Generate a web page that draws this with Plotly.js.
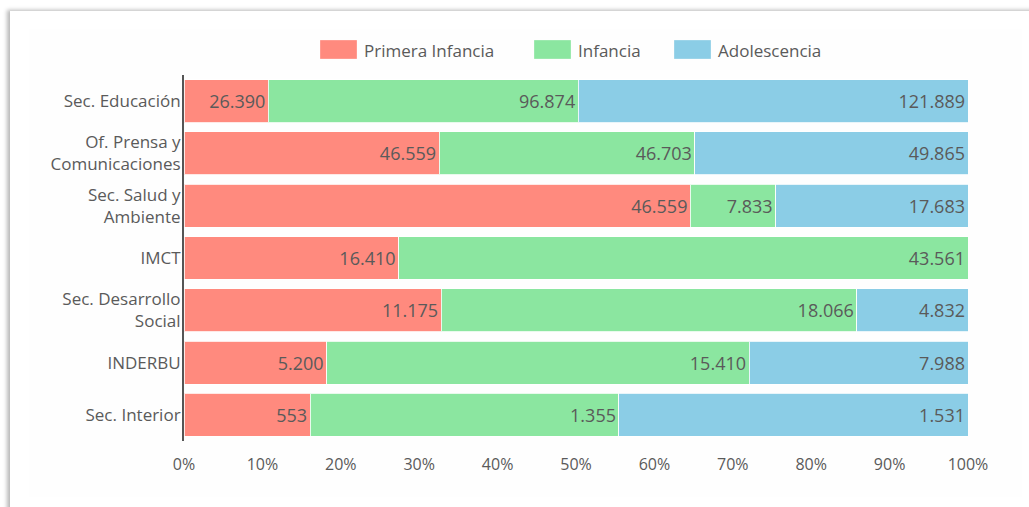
<!DOCTYPE html>
<html>
<head>
<meta charset="utf-8">
<script src="https://cdn.plot.ly/plotly-3.0.1.min.js"></script>
<style>
  html, body { margin: 0; padding: 0; background: #ffffff; width: 1029px; height: 507px; overflow: hidden; }
  #frame { position: absolute; left: 10px; top: 11px; width: 1030px; height: 510px; background: #ffffff;
           box-shadow: -3px -1px 4px rgba(0,0,0,0.28); }
  #inner { position: absolute; left: 29px; top: 29px; width: 993px; height: 468px; background: #fefefe; }
  #chart { position: absolute; left: 0; top: 0; width: 1029px; height: 507px; }
</style>
</head>
<body>
<div id="frame"></div>
<div id="inner"></div>
<div id="chart"></div>
<script>
const categories = ["Sec. Educación", "Of. Prensa y<br>Comunicaciones", "Sec. Salud y<br>Ambiente", "IMCT",
                    "Sec. Desarrollo<br>Social", "INDERBU", "Sec. Interior"];
const primeraInfancia = [26390, 46559, 46559, 16410, 11175, 5200, 553];
const infancia        = [96874, 46703, 7833, 43561, 18066, 15410, 1355];
const adolescencia    = [121889, 49865, 17683, 0, 4832, 7988, 1531];
const seriesNames  = ["Primera Infancia", "Infancia", "Adolescencia"];
const seriesColors = ["#FF8A7E", "#8BE6A0", "#8BCDE6"];
const xTickVals   = [0, 10, 20, 30, 40, 50, 60, 70, 80, 90, 100];
const xTickLabels = ["0%", "10%", "20%", "30%", "40%", "50%", "60%", "70%", "80%", "90%", "100%"];

const allSeries = [primeraInfancia, infancia, adolescencia];
const FONT = "'Open Sans', sans-serif";

const traces = allSeries.map((vals, i) => ({
  type: "bar",
  orientation: "h",
  name: seriesNames[i],
  y: categories,
  x: vals,
  customdata: vals,
  texttemplate: vals.map(v => v > 0 ? "%{customdata:,}" : ""),
  textposition: "inside",
  insidetextanchor: "end",
  textangle: 0,
  constraintext: "none",
  cliponaxis: false,
  textfont: { family: FONT, size: 18, color: "#5a5a5a" },
  marker: { color: seriesColors[i], line: { color: "rgba(255,255,255,0.8)", width: 1 } },
  hoverinfo: "skip",
  showlegend: false
}));

// custom legend (large swatches like the reference)
const legendX = [320, 534, 674];
const shapes = [];
const annotations = [];
const W = 1029, H = 507, L = 184, R = 61, T = 75, B = 66;
const pw = W - L - R, ph = H - T - B;
function px2x(px) { return (px - L) / pw; }
function py2y(py) { return 1 - (py - T) / ph; }
seriesNames.forEach((n, i) => {
  shapes.push({ type: "rect", xref: "paper", yref: "paper",
    x0: px2x(legendX[i]), x1: px2x(legendX[i] + 37),
    y0: py2y(59), y1: py2y(40),
    fillcolor: seriesColors[i], line: { width: 0.5, color: "rgba(255,255,255,0.6)" } });
  annotations.push({ xref: "paper", yref: "paper", x: px2x(legendX[i] + 42), y: py2y(50),
    xanchor: "left", yanchor: "middle", showarrow: false, text: n,
    font: { family: FONT, size: 17, color: "#5a5a5a" } });
});

const layout = {
  width: W, height: H,
  margin: { l: L, r: R, t: T, b: B, pad: 0 },
  paper_bgcolor: "rgba(0,0,0,0)",
  plot_bgcolor: "rgba(0,0,0,0)",
  barmode: "stack",
  barnorm: "percent",
  bargap: 0.18,
  separators: ",.",
  showlegend: false,
  font: { family: FONT, color: "#5a5a5a" },
  xaxis: {
    range: [0, 100],
    tickmode: "array",
    tickvals: xTickVals,
    ticktext: xTickLabels,
    showgrid: false,
    zeroline: false,
    showline: false,
    ticks: "",
    ticklabelstandoff: 12,
    tickfont: { family: FONT, size: 16, color: "#5a5a5a" },
    fixedrange: true
  },
  yaxis: {
    autorange: "reversed",
    showgrid: false,
    zeroline: false,
    showline: true,
    linecolor: "#555555",
    linewidth: 2,
    ticks: "",
    ticklabelstandoff: -2,
    tickfont: { family: FONT, size: 17, color: "#5a5a5a" },
    fixedrange: true
  },
  shapes: shapes,
  annotations: annotations
};

Plotly.newPlot("chart", traces, layout, { displayModeBar: false, staticPlot: true });
</script>
</body>
</html>
